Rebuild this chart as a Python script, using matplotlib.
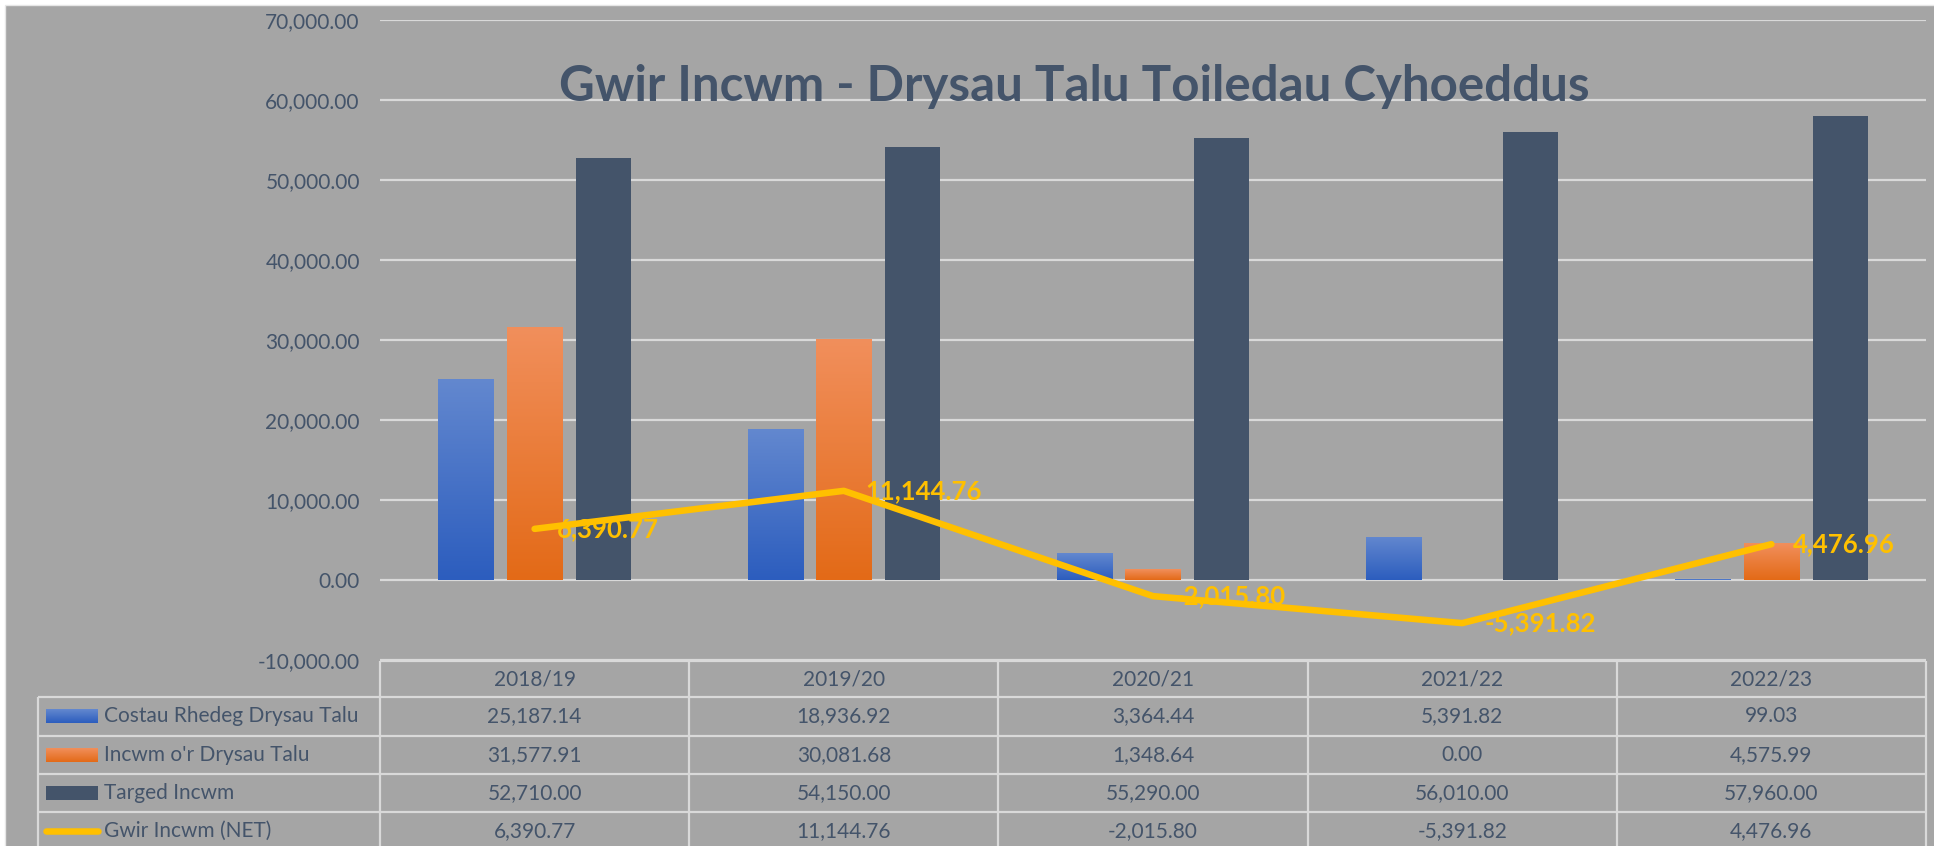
import matplotlib
matplotlib.use("Agg")
import matplotlib.pyplot as plt
import numpy as np
from matplotlib.colors import LinearSegmentedColormap
from matplotlib.patches import Rectangle
from matplotlib.ticker import FuncFormatter, MultipleLocator

# ---------------- data ----------------
years = ["2018/19", "2019/20", "2020/21", "2021/22", "2022/23"]
costau = [25187.14, 18936.92, 3364.44, 5391.82, 99.03]
incwm = [31577.91, 30081.68, 1348.64, 0.00, 4575.99]
targed = [52710.00, 54150.00, 55290.00, 56010.00, 57960.00]
gwir = [6390.77, 11144.76, -2015.80, -5391.82, 4476.96]
series_names = ["Costau Rhedeg Drysau Talu", "Incwm o'r Drysau Talu",
                "Targed Incwm", "Gwir Incwm (NET)"]
title = "Gwir Incwm - Drysau Talu Toiledau Cyhoeddus"

# ---------------- style ----------------
W, H, DPI = 1934, 846, 100
plt.rcParams['font.family'] = ['Lato', 'DejaVu Sans']
BG = '#A5A5A5'
GRID = '#D9D9D9'
TXT = '#44546A'
YEL = '#FFC000'
BLUE = ('#6388CF', '#2C5DBE')     # top, bottom
ORNG = ('#F18F5C', '#E36A17')
DARK = '#44546A'
LINE_W = 4.7

fig = plt.figure(figsize=(W / DPI, H / DPI), dpi=DPI, facecolor='white')

# background / overlay axes in pixel coordinates (y downwards)
bg = fig.add_axes([0, 0, 1, 1], zorder=0)
bg.axis('off')
bg.add_patch(Rectangle((5, 5), W, H, facecolor=BG, edgecolor='#E6E6E6', lw=1))

# main plot axes
ax = fig.add_axes([380 / W, (H - 660) / H, (1926 - 380) / W, (660 - 20) / H], zorder=1)
ax.patch.set_alpha(0)
for s in ax.spines.values():
    s.set_visible(False)

x = np.arange(len(years))
bw = 0.178
off = 0.222


def grad_bar(axis, xc, h, w, top, bottom):
    b = axis.bar(xc, h, w, color=bottom, zorder=2, linewidth=0)[0]
    if h <= 0:
        return
    cmap = LinearSegmentedColormap.from_list('g', [bottom, top])
    grad = np.linspace(0, 1, 256).reshape(-1, 1)
    im = axis.imshow(grad, cmap=cmap, aspect='auto', origin='lower',
                     extent=(xc - w / 2, xc + w / 2, 0, h), zorder=2.1,
                     interpolation='bilinear')
    im.set_clip_path(b)


for i in range(len(years)):
    grad_bar(ax, x[i] - off, costau[i], bw, *BLUE)
    grad_bar(ax, x[i], incwm[i], bw, *ORNG)
    ax.bar(x[i] + off, targed[i], bw, color=DARK, zorder=2, linewidth=0)

ax.plot(x, gwir, color=YEL, lw=LINE_W, solid_capstyle='round',
        solid_joinstyle='round', zorder=4)
for i, v in enumerate(gwir):
    ax.annotate(f"{v:,.2f}", (x[i], v), xytext=(22, 0), textcoords='offset pixels',
                ha='left', va='center', color=YEL, fontsize=18.5,
                fontweight='bold', zorder=5)

ax.set_xlim(-0.5, len(years) - 0.5)
ax.set_ylim(-10000, 70000)
ax.yaxis.set_major_locator(MultipleLocator(10000))
ax.yaxis.set_major_formatter(FuncFormatter(lambda v, p: f"{v:,.2f}"))
ax.set_xticks([])
ax.tick_params(axis='y', length=0, pad=14.5, labelsize=15, labelcolor=TXT)
ax.yaxis.grid(True, color=GRID, lw=1.6, zorder=0)
ax.set_axisbelow(True)

# title
fig.text(1074 / W, 1 - 101 / H, title, ha='center', va='baseline',
         fontsize=35.5, fontweight='bold', color=TXT)

# ---------------- data table ----------------
fig.canvas.draw()
edges = [ax.transData.transform((xe, 0))[0] for xe in np.arange(len(years) + 1) - 0.5]
rows_y = [661, 697, 736, 774, 812, 850]
leg_left = 38
lkw = dict(color=GRID, lw=1.6, solid_capstyle='butt', zorder=3)

bg.plot([edges[0], edges[-1]], [rows_y[0]] * 2, **lkw)
for yy in rows_y[1:]:
    bg.plot([leg_left, edges[-1]], [yy, yy], **lkw)
bg.plot([leg_left] * 2, [rows_y[1], H], **lkw)
for xe in edges:
    bg.plot([xe, xe], [rows_y[0], H], **lkw)

for i, yr in enumerate(years):
    xc = (edges[i] + edges[i + 1]) / 2
    bg.text(xc, (rows_y[0] + rows_y[1]) / 2, yr, ha='center', va='center',
            fontsize=15, color=TXT)

table_vals = [costau, incwm, targed, gwir]
for r, vals in enumerate(table_vals):
    yc = (rows_y[r + 1] + rows_y[r + 2]) / 2
    for i, v in enumerate(vals):
        xc = (edges[i] + edges[i + 1]) / 2
        bg.text(xc, yc, f"{v:,.2f}", ha='center', va='center', fontsize=15, color=TXT)
    bg.text(104.5, yc, series_names[r], ha='left', va='center', fontsize=15, color=TXT)

# legend keys
grad = np.linspace(0, 1, 256).reshape(-1, 1)
for r, cols in enumerate([BLUE, ORNG]):
    yc = (rows_y[r + 1] + rows_y[r + 2]) / 2
    cmap = LinearSegmentedColormap.from_list('k', [cols[1], cols[0]])
    bg.imshow(grad, cmap=cmap, aspect='auto', origin='lower',
              extent=(46, 98, yc + 7, yc - 7), zorder=3)
yc = (rows_y[3] + rows_y[4]) / 2
bg.add_patch(Rectangle((46, yc - 7), 52, 14, facecolor=DARK, lw=0, zorder=3))
yc = (rows_y[4] + rows_y[5]) / 2
bg.plot([46, 98], [yc, yc], color=YEL, lw=LINE_W, solid_capstyle='round', zorder=3)

bg.set_xlim(0, W)
bg.set_ylim(H, 0)

fig.savefig("out.png", dpi=DPI, facecolor='white')
